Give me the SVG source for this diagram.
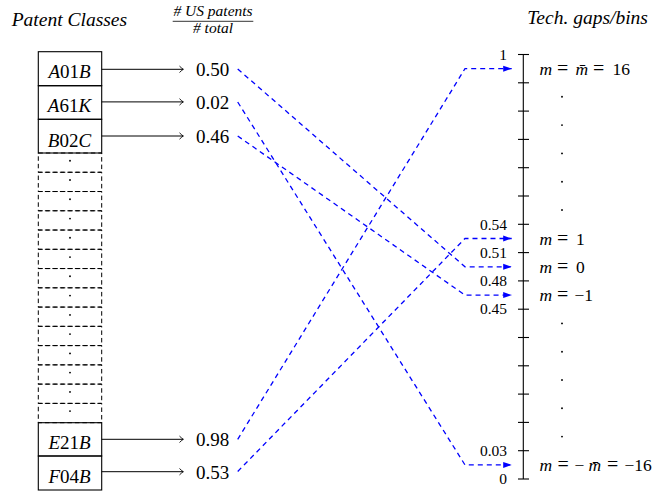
<svg xmlns="http://www.w3.org/2000/svg" width="665" height="491" viewBox="0 0 665 491" font-family="'Liberation Serif', 'Times New Roman', 'DejaVu Serif', serif">
<defs>
<style>
.box{fill:none;stroke:#000;stroke-width:1.1}
.dbox{fill:none;stroke:#000;stroke-width:1;stroke-dasharray:4.5 3}
text{font-family:'Liberation Serif','Times New Roman',serif;fill:#000}
.it{font-style:italic}
.eq{font-size:20px}
.arr{stroke:#000;stroke-width:1;fill:none;marker-end:url(#to)}
.blue{stroke:#00f;stroke-width:1.3;fill:none;stroke-dasharray:5 4;marker-end:url(#lat)}
.tick{stroke:#000;stroke-width:1.1}
.dot{fill:#000}
.tl{font-size:15.5px;text-anchor:end}
.ml{font-size:17.5px}
.v{font-size:19px}
.bl{font-size:19px;text-anchor:middle}
</style>
<marker id="to" viewBox="-5 -4 6 8" markerWidth="6" markerHeight="8" refX="0" refY="0" orient="auto" markerUnits="userSpaceOnUse">
<path d="M-3.8,-3.2 Q-1.2,-0.6 0,0 Q-1.2,0.6 -3.8,3.2" fill="none" stroke="#000" stroke-width="0.9"/>
</marker>
<marker id="lat" viewBox="-9 -3.5 10 7" markerWidth="10" markerHeight="7" refX="0" refY="0" orient="auto" markerUnits="userSpaceOnUse">
<path d="M-8.5,-3 L0,0 L-8.5,3 Z" fill="#00f"/>
</marker>
</defs>

<g id="headers">
<text class="it" x="11.7" y="26" font-size="19.5">Patent Classes</text>
<text class="it" x="213" y="16" font-size="15.5" text-anchor="middle"># US patents</text>
<line x1="172.7" y1="21.3" x2="253.3" y2="21.3" stroke="#000" stroke-width="0.8"/>
<text class="it" x="213" y="33.3" font-size="15.5" text-anchor="middle"># total</text>
<text class="it" x="527.3" y="23.5" font-size="19.5">Tech. gaps/bins</text>
</g>

<g id="class-A01B"><rect class="box" x="38.3" y="51.7" width="63.4" height="34"/><text class="bl" x="69.5" y="78.3"><tspan class="it">A</tspan>01<tspan class="it">B</tspan></text></g>
<g id="class-A61K"><rect class="box" x="38.3" y="85.7" width="63.4" height="33.6"/><text class="bl" x="69.5" y="112"><tspan class="it">A</tspan>61<tspan class="it">K</tspan></text></g>
<g id="class-B02C"><rect class="box" x="38.3" y="119.3" width="63.4" height="33.7"/><text class="bl" x="69.5" y="146.7"><tspan class="it">B</tspan>02<tspan class="it">C</tspan></text></g>

<g id="class-ellipsis">
<rect class="dbox" x="38.3" y="153.0" width="63.4" height="19.26"/>
<rect class="dbox" x="38.3" y="172.26" width="63.4" height="19.26"/>
<rect class="dbox" x="38.3" y="191.52" width="63.4" height="19.26"/>
<rect class="dbox" x="38.3" y="210.78" width="63.4" height="19.26"/>
<rect class="dbox" x="38.3" y="230.04" width="63.4" height="19.26"/>
<rect class="dbox" x="38.3" y="249.3" width="63.4" height="19.26"/>
<rect class="dbox" x="38.3" y="268.56" width="63.4" height="19.26"/>
<rect class="dbox" x="38.3" y="287.82" width="63.4" height="19.26"/>
<rect class="dbox" x="38.3" y="307.08" width="63.4" height="19.26"/>
<rect class="dbox" x="38.3" y="326.34" width="63.4" height="19.26"/>
<rect class="dbox" x="38.3" y="345.6" width="63.4" height="19.26"/>
<rect class="dbox" x="38.3" y="364.86" width="63.4" height="19.26"/>
<rect class="dbox" x="38.3" y="384.12" width="63.4" height="19.26"/>
<rect class="dbox" x="38.3" y="403.38" width="63.4" height="19.32"/>
<circle class="dot" cx="70" cy="160.8" r="0.95"/>
<circle class="dot" cx="70" cy="180.0" r="0.95"/>
<circle class="dot" cx="70" cy="199.3" r="0.95"/>
<circle class="dot" cx="70" cy="218.6" r="0.95"/>
<circle class="dot" cx="70" cy="237.8" r="0.95"/>
<circle class="dot" cx="70" cy="257.1" r="0.95"/>
<circle class="dot" cx="70" cy="276.3" r="0.95"/>
<circle class="dot" cx="70" cy="295.6" r="0.95"/>
<circle class="dot" cx="70" cy="314.9" r="0.95"/>
<circle class="dot" cx="70" cy="334.1" r="0.95"/>
<circle class="dot" cx="70" cy="353.4" r="0.95"/>
<circle class="dot" cx="70" cy="372.6" r="0.95"/>
<circle class="dot" cx="70" cy="391.9" r="0.95"/>
<circle class="dot" cx="70" cy="411.1" r="0.95"/>
</g>

<g id="class-E21B"><rect class="box" x="38.3" y="422.7" width="63.4" height="33.3"/><text class="bl" x="69.5" y="449.3"><tspan class="it">E</tspan>21<tspan class="it">B</tspan></text></g>
<g id="class-F04B"><rect class="box" x="38.3" y="456" width="63.4" height="34"/><text class="bl" x="69.5" y="483.3"><tspan class="it">F</tspan>04<tspan class="it">B</tspan></text></g>

<g id="val-050"><text class="v" x="196" y="76">0.50</text></g>
<g id="val-002"><text class="v" x="196" y="109.3">0.02</text></g>
<g id="val-046"><text class="v" x="196" y="143.3">0.46</text></g>
<g id="val-098"><text class="v" x="196" y="445.7">0.98</text></g>
<g id="val-053"><text class="v" x="196" y="479">0.53</text></g>

<g id="axis">
<line x1="523.3" y1="54.5" x2="523.3" y2="479" stroke="#000" stroke-width="1.1"/>
<g class="tick">
<line x1="518" y1="54.5" x2="529" y2="54.5"/>
<line x1="518" y1="82.8" x2="529" y2="82.8"/>
<line x1="518" y1="111.1" x2="529" y2="111.1"/>
<line x1="518" y1="139.4" x2="529" y2="139.4"/>
<line x1="518" y1="167.7" x2="529" y2="167.7"/>
<line x1="518" y1="196.0" x2="529" y2="196.0"/>
<line x1="518" y1="224.3" x2="529" y2="224.3"/>
<line x1="518" y1="252.6" x2="529" y2="252.6"/>
<line x1="518" y1="280.9" x2="529" y2="280.9"/>
<line x1="518" y1="309.2" x2="529" y2="309.2"/>
<line x1="518" y1="337.5" x2="529" y2="337.5"/>
<line x1="518" y1="365.8" x2="529" y2="365.8"/>
<line x1="518" y1="394.1" x2="529" y2="394.1"/>
<line x1="518" y1="422.4" x2="529" y2="422.4"/>
<line x1="518" y1="450.7" x2="529" y2="450.7"/>
<line x1="518" y1="479" x2="529" y2="479"/>
</g>
<text class="tl" x="507" y="59.5">1</text>
<text class="tl" x="507" y="229.5">0.54</text>
<text class="tl" x="507" y="257.8">0.51</text>
<text class="tl" x="507" y="286.1">0.48</text>
<text class="tl" x="507" y="314.4">0.45</text>
<text class="tl" x="507" y="455.9">0.03</text>
<text class="tl" x="507" y="484.2">0</text>
</g>

<g id="bin-top"><text class="ml" y="74.8"><tspan class="it" x="539.5">m</tspan><tspan class="eq" x="557">=</tspan><tspan class="it" x="575.5">m&#x0304;</tspan><tspan class="eq" x="593">=</tspan><tspan x="612.5">16</tspan></text></g>
<g id="bin-dots-upper">
<circle class="dot" cx="562" cy="96.8" r="0.95"/>
<circle class="dot" cx="562" cy="125.1" r="0.95"/>
<circle class="dot" cx="562" cy="153.4" r="0.95"/>
<circle class="dot" cx="562" cy="181.7" r="0.95"/>
<circle class="dot" cx="562" cy="210.0" r="0.95"/>
</g>
<g id="bin-1"><text class="ml" y="244.7"><tspan class="it" x="539.5">m</tspan><tspan class="eq" x="557">=</tspan><tspan x="576">1</tspan></text></g>
<g id="bin-0"><text class="ml" y="272.9"><tspan class="it" x="539.5">m</tspan><tspan class="eq" x="557">=</tspan><tspan x="576">0</tspan></text></g>
<g id="bin-m1"><text class="ml" y="301.2"><tspan class="it" x="539.5">m</tspan><tspan class="eq" x="557">=</tspan><tspan x="574.5">−1</tspan></text></g>
<g id="bin-dots-lower">
<circle class="dot" cx="562" cy="323.4" r="0.95"/>
<circle class="dot" cx="562" cy="351.7" r="0.95"/>
<circle class="dot" cx="562" cy="380.0" r="0.95"/>
<circle class="dot" cx="562" cy="408.3" r="0.95"/>
<circle class="dot" cx="562" cy="436.6" r="0.95"/>
</g>
<g id="bin-bottom"><text class="ml" y="471"><tspan class="it" x="539.5">m</tspan><tspan class="eq" x="557.5">=</tspan><tspan x="574.5">−</tspan><tspan class="it" x="588.5">m&#x0304;</tspan><tspan class="eq" x="607">=</tspan><tspan x="624.5">−16</tspan></text></g>

<g id="connectors">
<line class="arr" x1="101.7" y1="69.3" x2="183.3" y2="69.3"/>
<line class="arr" x1="101.7" y1="101.9" x2="183.3" y2="101.9"/>
<line class="arr" x1="101.7" y1="136" x2="183.3" y2="136"/>
<line class="arr" x1="101.7" y1="439.3" x2="183.3" y2="439.3"/>
<line class="arr" x1="101.7" y1="471.7" x2="183.3" y2="471.7"/>
<polyline class="blue" points="237.7,69 465,266.8 511.7,266.8"/>
<polyline class="blue" points="237.7,102 465,464.9 511.7,464.9"/>
<polyline class="blue" points="237.7,136 465,295.1 511.7,295.1"/>
<polyline class="blue" points="237.7,439.3 465,68.65 511.7,68.65"/>
<polyline class="blue" points="237.7,471.5 465,238.5 511.7,238.5"/>
</g>
</svg>
